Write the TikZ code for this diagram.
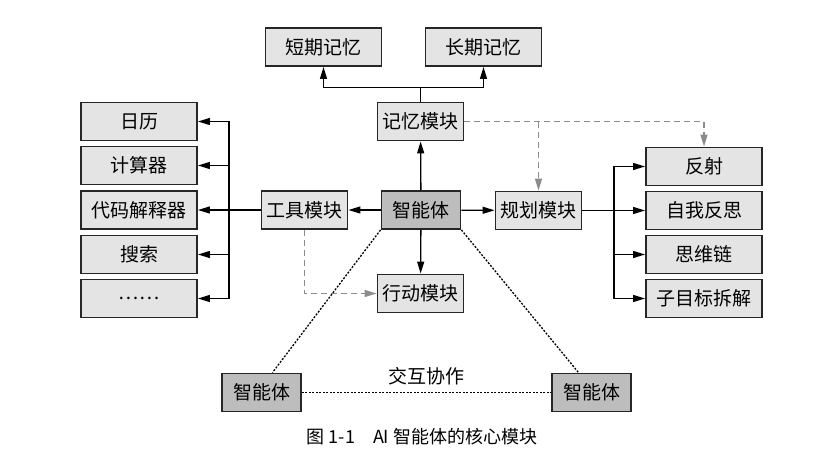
\documentclass[tikz,border=0pt]{standalone}
\usepackage{fontspec}
\setmainfont{Noto Sans CJK SC}
\usetikzlibrary{arrows.meta}

\definecolor{boxgray}{HTML}{E4E4E4}
\definecolor{agentgray}{HTML}{BDBDBD}
\definecolor{dashgray}{HTML}{8C8C8C}

\tikzset{
  box/.style={draw=black!85, line width=1.9pt, fill=boxgray, minimum height=38pt, inner sep=0pt, font=\fontsize{19}{21}\selectfont},
  wide/.style={box, minimum width=116pt},
  module/.style={box, minimum width=86pt},
  agentbox/.style={box, fill=agentgray, minimum width=79pt},
  arr/.style={->, line width=1.3pt},
  gdash/.style={->, line width=1.3pt, dashgray, dash pattern=on 6pt off 4pt},
  coop/.style={line width=1.3pt, dash pattern=on 2pt off 1.5pt},
}

\begin{document}
\begin{tikzpicture}[x=1pt, y=-1pt, >={Triangle[length=12pt,width=7pt]}]
        \useasboundingbox (0,0) rectangle (839,463);
        % centre and modules
        \node[agentbox] (agent) at (421,210) {智能体};
        \node[module] (mem) at (420.5,121.5) {记忆模块};
        \node[module] (tool) at (304.5,210) {工具模块};
        \node[module] (plan) at (538.5,210.5) {规划模块};
        \node[module] (act) at (420.5,293.5) {行动模块};
        % memory
        \node[wide] (short) at (323.5,47) {短期记忆};
        \node[wide] (long) at (483.5,47) {长期记忆};
        % tools
        \node[wide] (cal) at (139,121.5) {日历};
        \node[wide] (calc) at (139,165.5) {计算器};
        \node[wide] (code) at (139,210) {代码解释器};
        \node[wide] (search) at (139,254.5) {搜索};
        \node[wide] (more) at (139,298.5) {……};
        % planning
        \node[wide] (refl) at (704,166.5) {反射};
        \node[wide] (self) at (704,210.5) {自我反思};
        \node[wide] (cot) at (704,254.5) {思维链};
        \node[wide] (sub) at (704,298.5) {子目标拆解};
        % other agents
        \node[agentbox] (agentL) at (261.5,392.5) {智能体};
        \node[agentbox] (agentR) at (591.5,392.5) {智能体};
        \node[font=\fontsize{18}{20}\selectfont] (cap) at (422,437) {图 1-1\quad AI 智能体的核心模块};

        \draw[arr] (agent) -- (mem);
        \draw[arr] (agent) -- (tool);
        \draw[arr] (agent) -- (plan);
        \draw[arr] (agent) -- (act);
        \draw[arr] (mem.north) -- ++(0,-14) -| (short.south);
        \draw[arr] (mem.north) -- ++(0,-14) -| (long.south);

        \coordinate (lbus) at (229,210);
        \draw[arr] (tool.west) -- (code.east);
        \draw[arr] (lbus) |- (cal.east);
        \draw[arr] (lbus) |- (calc.east);
        \draw[arr] (lbus) |- (search.east);
        \draw[arr] (lbus) |- (more.east);

        \coordinate (rbus) at (614,210.5);
        \draw[arr] (plan.east) -- (self.west);
        \draw[arr] (rbus) |- (refl.west);
        \draw[arr] (rbus) |- (cot.west);
        \draw[arr] (rbus) |- (sub.west);

        \draw[gdash] (mem.east) -| (refl.north);
        \draw[gdash] (plan.north |- mem.east) -- (plan.north);
        \draw[gdash] (tool.south) |- (act.west);

        \draw[coop] (agent.south west) -- ([xshift=11pt]agentL.north);
        \draw[coop] (agent.south east) -- ([xshift=-13pt]agentR.north);
        \draw[coop] (agentL.east) -- node[above=3pt, font=\fontsize{19}{21}\selectfont]{交互协作} (agentR.west);
    \end{tikzpicture}
\end{document}
